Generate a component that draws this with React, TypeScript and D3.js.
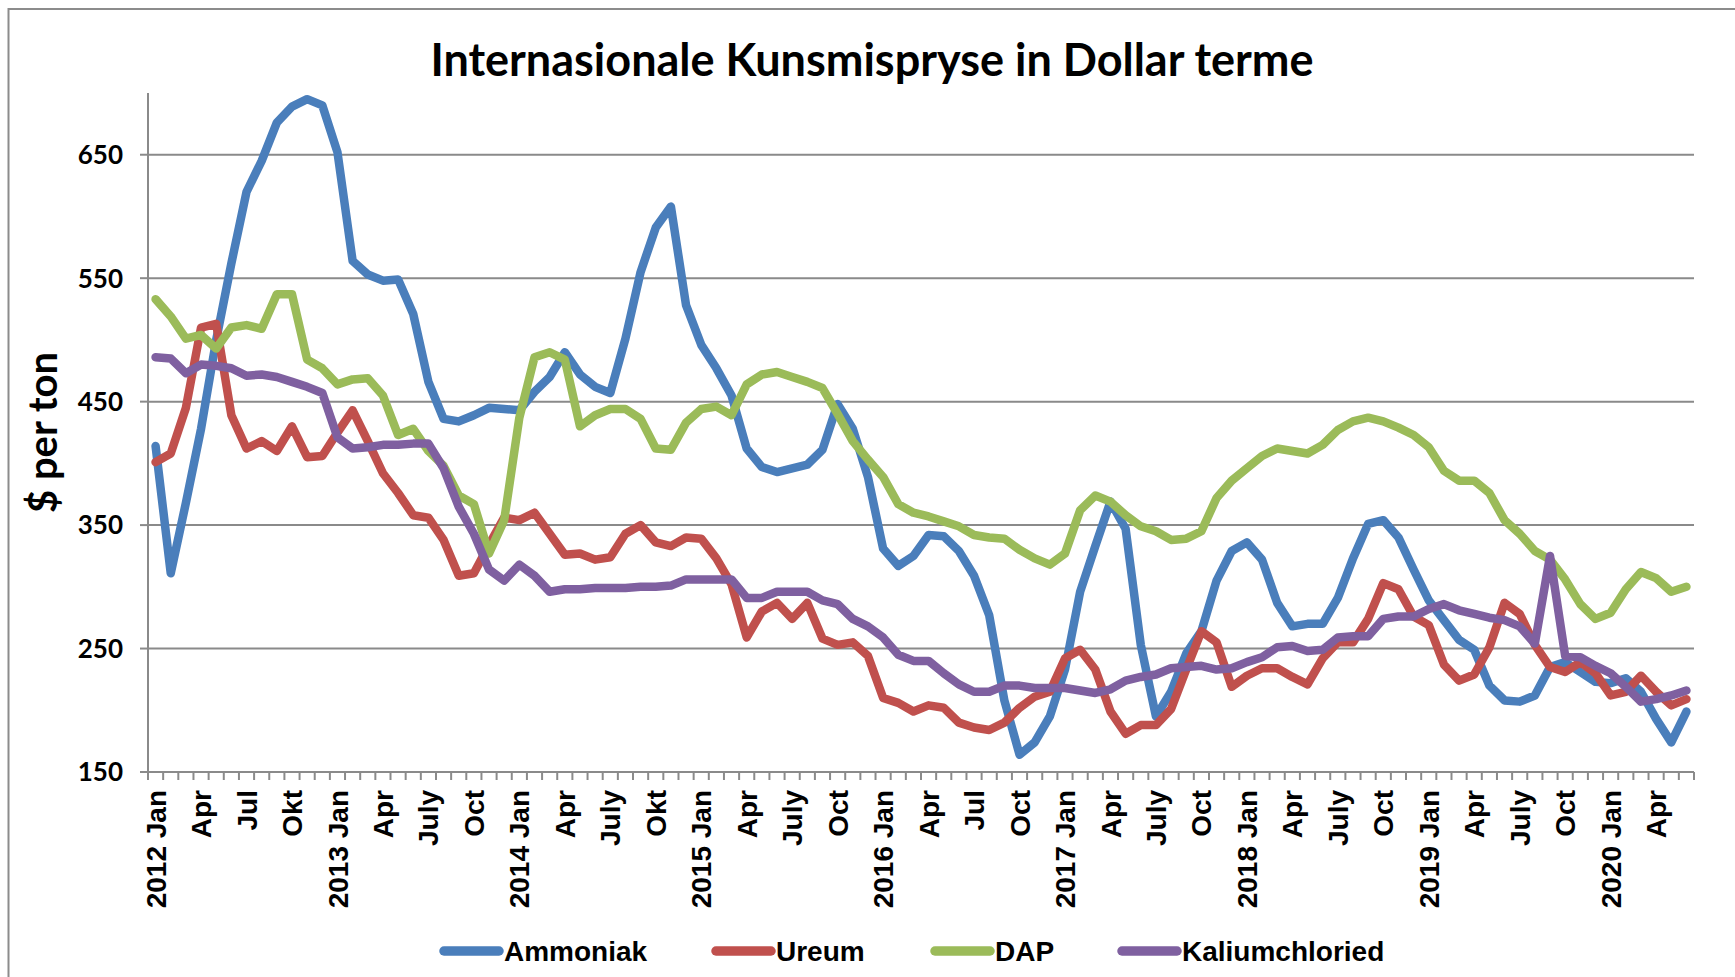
import * as d3 from 'd3'

const years = [2012, 2013, 2014, 2015, 2016, 2017, 2018, 2019, 2020]
const monthCount = 102 // 2012 Jan .. 2020 Jun

const tickLabels = [
  '2012 Jan', 'Apr', 'Jul', 'Okt',
  '2013 Jan', 'Apr', 'July', 'Oct',
  '2014 Jan', 'Apr', 'July', 'Okt',
  '2015 Jan', 'Apr', 'July', 'Oct',
  '2016 Jan', 'Apr', 'Jul', 'Oct',
  '2017 Jan', 'Apr', 'July', 'Oct',
  '2018 Jan', 'Apr', 'July', 'Oct',
  '2019 Jan', 'Apr', 'July', 'Oct',
  '2020 Jan', 'Apr',
]

const ammoniak = [
  414, 311, 368, 428, 500, 562, 620, 645, 676, 689, 695, 690,
  652, 564, 553, 548, 549, 521, 466, 436, 434, 439, 445, 444,
  443, 458, 470, 490, 472, 462, 457, 501, 555, 591, 608, 528,
  496, 477, 455, 412, 397, 393, 396, 399, 411, 448, 428, 389,
  331, 317, 325, 342, 341, 329, 309, 277, 208, 164, 174, 195,
  233, 296, 333, 369, 347, 253, 195, 215, 246, 264, 305, 329,
  336, 322, 287, 268, 270, 270, 291, 323, 351, 354, 340, 314,
  289, 273, 257, 249, 220, 208, 207, 212, 235, 239, 231, 223,
  222, 226, 215, 193, 174, 199,
]

const ureum = [
  401, 408, 445, 510, 513, 439, 412, 418, 410, 430, 405, 406,
  425, 443, 418, 392, 376, 358, 356, 338, 309, 311, 334, 356,
  354, 360, 343, 326, 327, 322, 324, 343, 350, 336, 333, 340,
  339, 323, 302, 259, 280, 287, 274, 287, 258, 253, 255, 244,
  210, 206, 199, 204, 202, 190, 186, 184, 190, 202, 211, 215,
  242, 249, 233, 199, 181, 188, 188, 201, 233, 264, 255, 219,
  228, 234, 234, 227, 221, 242, 255, 255, 274, 303, 298, 276,
  269, 237, 224, 229, 251, 287, 278, 253, 235, 231, 239, 230,
  212, 215, 228, 215, 204, 209,
]

const dap = [
  533, 519, 501, 504, 493, 510, 512, 509, 537, 537, 484, 477,
  464, 468, 469, 455, 423, 428, 410, 398, 374, 367, 327, 354,
  437, 486, 490, 484, 430, 439, 444, 444, 436, 412, 411, 433,
  444, 446, 439, 464, 472, 474, 470, 466, 461, 440, 418, 403,
  389, 367, 360, 357, 353, 349, 342, 340, 339, 330, 323, 318,
  327, 362, 374, 369, 358, 349, 345, 338, 339, 345, 372, 386,
  396, 406, 412, 410, 408, 415, 427, 434, 437, 434, 429, 423,
  413, 394, 386, 386, 376, 354, 343, 329, 322, 306, 286, 274,
  279, 298, 312, 307, 296, 300,
]

const kalium = [
  486, 485, 473, 480, 479, 477, 471, 472, 470, 466, 462, 457,
  421, 412, 413, 415, 415, 416, 416, 396, 365, 343, 314, 305,
  318, 309, 296, 298, 298, 299, 299, 299, 300, 300, 301, 306,
  306, 306, 306, 291, 291, 296, 296, 296, 289, 286, 274, 268,
  259, 245, 240, 240, 230, 221, 215, 215, 220, 220, 218, 218,
  218, 216, 214, 217, 224, 227, 229, 234, 235, 236, 233, 234,
  239, 243, 251, 252, 248, 249, 259, 260, 260, 274, 276, 276,
  282, 286, 281, 278, 275, 273, 268, 254, 325, 244, 243, 236,
  230, 219, 207, 209, 212, 216,
]

const seriesNames = ['Ammoniak', 'Ureum', 'DAP', 'Kaliumchloried']
const seriesColors = ['#4a7ebb', '#c0504d', '#9bbb59', '#7f60a0']
const yTicks = [150, 250, 350, 450, 550, 650]

const W = 1735
const H = 977
const plot = { left: 148, right: 1694, top: 93, bottom: 772 }
const gridColor = '#8a8a8a'
const calibriLike = 'Lato, "Open Sans", sans-serif'
const arialLike = '"Liberation Sans", Arial, sans-serif'

export default function App() {
  const months = d3.range(monthCount)
  const x = d3.scaleBand<number>().domain(months).range([plot.left, plot.right])
  const y = d3.scaleLinear().domain([150, 700]).range([plot.bottom, plot.top])
  const cx = (i: number) => (x(i) ?? 0) + x.bandwidth() / 2

  const line = d3
    .line<number>()
    .x((_, i) => cx(i))
    .y((d) => y(d))

  const series = [ammoniak, ureum, dap, kalium]
  const legendX = [444, 716, 935, 1122]

  return (
    <svg
      width={W}
      height={H}
      style={{ position: 'absolute', left: 0, top: 0, background: '#fff' }}
    >
      <rect x={0} y={0} width={W} height={H} fill="#fff" />
      <rect x={8.5} y={9} width={W + 50} height={H + 50} fill="none" stroke="#8c8c8c" strokeWidth={2} />

      <text
        x={872}
        y={76}
        textAnchor="middle"
        fontFamily={calibriLike}
        fontWeight="bold"
        fontSize={45}
        fill="#000"
      >
        Internasionale Kunsmispryse in Dollar terme
      </text>

      {/* gridlines */}
      {yTicks.slice(1).map((t) => (
        <line key={t} x1={plot.left} x2={plot.right} y1={y(t)} y2={y(t)} stroke={gridColor} strokeWidth={2} />
      ))}

      {/* y axis */}
      <line x1={plot.left} x2={plot.left} y1={plot.top} y2={plot.bottom} stroke={gridColor} strokeWidth={2} />
      {yTicks.map((t) => (
        <g key={t}>
          <line x1={plot.left - 8} x2={plot.left} y1={y(t)} y2={y(t)} stroke={gridColor} strokeWidth={2} />
          <text
            x={123}
            y={y(t)}
            dy="0.36em"
            textAnchor="end"
            fontFamily={calibriLike}
            fontWeight="bold"
            fontSize={26}
          >
            {t}
          </text>
        </g>
      ))}
      <text
        transform={`translate(57,${(plot.top + plot.bottom) / 2}) rotate(-90)`}
        textAnchor="middle"
        fontFamily={calibriLike}
        fontWeight="bold"
        fontSize={40}
      >
        $ per ton
      </text>

      {/* x axis */}
      <line x1={plot.left} x2={plot.right} y1={plot.bottom} y2={plot.bottom} stroke={gridColor} strokeWidth={2} />
      {d3.range(monthCount + 1).map((i) => {
        const tx = plot.left + i * x.bandwidth()
        return <line key={i} x1={tx} x2={tx} y1={plot.bottom} y2={plot.bottom + 8} stroke={gridColor} strokeWidth={2} />
      })}
      {tickLabels.map((lab, k) => (
        <text
          key={k}
          transform={`translate(${cx(k * 3)},790) rotate(-90)`}
          dy="0.36em"
          textAnchor="end"
          fontFamily={arialLike}
          fontWeight="bold"
          fontSize={28}
        >
          {lab}
        </text>
      ))}

      {/* series */}
      {series.map((s, k) => (
        <path
          key={seriesNames[k]}
          d={line(s) ?? ''}
          fill="none"
          stroke={seriesColors[k]}
          strokeWidth={8.5}
          strokeLinejoin="round"
          strokeLinecap="round"
        />
      ))}

      {/* legend */}
      {seriesNames.map((name, k) => (
        <g key={name}>
          <line
            x1={legendX[k]}
            x2={legendX[k] + 55}
            y1={951}
            y2={951}
            stroke={seriesColors[k]}
            strokeWidth={9.5}
            strokeLinecap="round"
          />
          <text
            x={legendX[k] + 60}
            y={951}
            dy="0.36em"
            fontFamily={arialLike}
            fontWeight="bold"
            fontSize={28}
          >
            {name}
          </text>
        </g>
      ))}
      <desc>{years.join(',')}</desc>
    </svg>
  )
}
